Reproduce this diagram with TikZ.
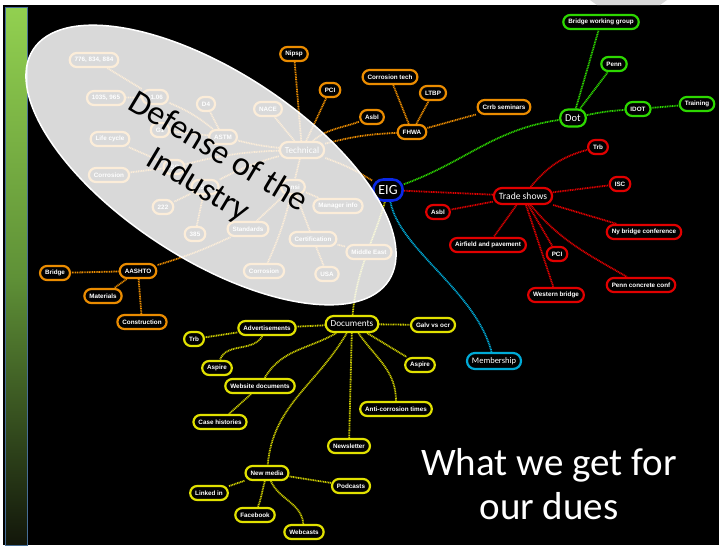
\documentclass[tikz,border=0pt]{standalone}
\usepackage{fontspec}
\setmainfont{Carlito}
\newfontfamily\arialfont{Liberation Sans}
\usetikzlibrary{calc}
\pgfdeclarelayer{bgl}
\pgfdeclarelayer{edgel}
\pgfdeclarelayer{topl}
\pgfsetlayers{bgl,edgel,main,topl}
\definecolor{orng}{RGB}{235,140,0}
\definecolor{grn}{RGB}{45,215,0}
\definecolor{rdd}{RGB}{225,0,0}
\definecolor{yelb}{RGB}{225,225,0}
\definecolor{yell}{RGB}{205,205,0}
\definecolor{eigblue}{RGB}{10,40,230}
\definecolor{memb}{RGB}{0,170,215}
\definecolor{bartop}{RGB}{146,208,80}
\definecolor{barmid}{RGB}{95,145,55}
\definecolor{barbot}{RGB}{18,22,10}
\newcommand{\leaffont}{\arialfont\bfseries\fontsize{6.3}{7}\selectfont}
\newcommand{\topicfont}{\fontsize{9.2}{10}\selectfont}
\begin{document}
\begin{tikzpicture}[x=1pt,y=1pt,
  leaf/.style={draw, fill=black, text=white, font=\leaffont, line width=2.2pt,
    rounded corners=7pt, inner xsep=5pt, inner ysep=1pt, minimum height=14pt},
  topic/.style={leaf, font=\topicfont, rounded corners=8pt, minimum height=16pt, inner xsep=5pt},
  orn/.style={draw=orng}, gr/.style={draw=grn}, rd/.style={draw=rdd}, yl/.style={draw=yelb},
  lnk/.style={line width=1.8pt, dash pattern=on 1pt off 0.7pt},
  lo/.style={lnk, draw=orng}, lg/.style={lnk, draw=grn}, lr/.style={lnk, draw=rdd},
  ly/.style={lnk, draw=yell}, lb/.style={lnk, draw=memb}
]
\useasboundingbox (0,0) rectangle (721,-547);
\begin{pgfonlayer}{bgl}
\fill[white] (0,0) rectangle (721,-547);
\fill[black] (3,-5) rectangle (719,-545);
\fill[black!15] (590,0) -- (667,0) -- (660,-5) -- (597,-5) -- cycle;
\shade[top color=bartop, bottom color=barbot, middle color=barmid] (5,-7) rectangle (27,-545);
\draw[draw={rgb,255:red,70;green,110;blue,150}, line width=0.6pt] (5,-7) rectangle (27,-545);
\end{pgfonlayer}

% ---------- hub ----------
\node[leaf, draw=eigblue, line width=2.6pt, font=\fontsize{14}{15}\selectfont, rounded corners=10pt, minimum height=21pt, inner xsep=5pt] (eig) at (388,-190) {EIG};

% ---------- technical (orange) ----------
\node[topic,orn] (tech) at (302,-150) {Technical};
\node[leaf,orn] (nipsp) at (294,-54) {Nipsp};
\node[leaf,orn] (pci1) at (330,-90) {PCI};
\node[leaf,orn] (asbl1) at (372,-117) {Asbl};
\node[leaf,orn] (ctech) at (390,-77) {Corrosion tech};
\node[leaf,orn] (ltbp) at (433,-93) {LTBP};
\node[leaf,orn] (fhwa) at (412,-132) {FHWA};
\node[leaf,orn] (crrb) at (504,-107) {Crrb seminars};
\node[leaf,orn] (aashto) at (138,-271) {AASHTO};
\node[leaf,orn] (bridge) at (55,-273) {Bridge};
\node[leaf,orn] (mat) at (103,-296) {Materials};
\node[leaf,orn] (constr) at (142,-322) {Construction};
\node[leaf,orn] (n776) at (94,-60) {776, 834, 884};
\node[leaf,orn] (n1035) at (106,-98) {1035, 965};
\node[leaf,orn] (e106) at (155,-97) {e1.06};
\node[leaf,orn] (d4) at (206,-104) {D4};
\node[leaf,orn] (nace) at (268,-109) {NACE};
\node[leaf,orn] (astm) at (223,-137) {ASTM};
\node[leaf,orn] (g1) at (160,-130) {G1};
\node[leaf,orn] (life) at (110,-139) {Life cycle};
\node[leaf,orn] (corr1) at (109,-175) {Corrosion};
\node[leaf,orn] (iso) at (174,-167) {ISO};
\node[leaf,orn] (sspc) at (205,-187) {SSPC};
\node[leaf,orn] (n222) at (163,-207) {222};
\node[leaf,orn] (n385) at (195,-234) {385};
\node[leaf,orn] (stand) at (248,-229) {Standards};
\node[leaf,orn] (ansi) at (293,-187) {Ansi};
\node[leaf,orn] (mgr) at (338,-206) {Manager info};
\node[leaf,orn] (cert) at (313,-239) {Certification};
\node[leaf,orn] (mideast) at (369,-252) {Middle East};
\node[leaf,orn] (usa) at (327,-274) {USA};
\node[leaf,orn] (corr2) at (264,-271) {Corrosion};

% ---------- trade shows (red) ----------
\node[topic,rd, font=\fontsize{9.6}{10}\selectfont] (trade) at (523,-196) {Trade shows};
\node[leaf,rd] (trb1) at (598,-147) {Trb};
\node[leaf,rd] (isc) at (620,-184) {ISC};
\node[leaf,rd] (asbl2) at (438,-212) {Asbl};
\node[leaf,rd] (airf) at (488,-245) {Airfield and pavement};
\node[leaf,rd] (pci2) at (557,-254) {PCI};
\node[leaf,rd] (western) at (556,-295) {Western bridge};
\node[leaf,rd] (ny) at (644,-232) {Ny bridge conference};
\node[leaf,rd] (pennc) at (641,-285) {Penn concrete conf};

% ---------- dot (green) ----------
\node[topic,gr, font=\fontsize{10.5}{11}\selectfont, minimum height=17pt] (dot) at (573,-118) {Dot};
\node[leaf,gr] (bwg) at (601,-22) {Bridge working group};
\node[leaf,gr] (penn) at (614,-64) {Penn};
\node[leaf,gr] (idot) at (638,-109) {IDOT};
\node[leaf,gr] (train) at (697,-104) {Training};

% ---------- membership ----------
\node[topic, draw=memb, font=\fontsize{8.5}{9}\selectfont] (memb) at (494,-361) {Membership};

% ---------- documents (yellow) ----------
\node[topic,yl] (docs) at (352,-324) {Documents};
\node[leaf,yl] (adv) at (267,-328) {Advertisements};
\node[leaf,yl] (trb2) at (194,-339) {Trb};
\node[leaf,yl] (asp1) at (217,-368) {Aspire};
\node[leaf,yl] (web) at (260,-386) {Website documents};
\node[leaf,yl] (case) at (220,-422) {Case histories};
\node[leaf,yl] (galv) at (433,-325) {Galv vs ocr};
\node[leaf,yl] (asp2) at (420,-365) {Aspire};
\node[leaf,yl] (anti) at (396,-409) {Anti-corrosion times};
\node[leaf,yl] (news) at (349,-446) {Newsletter};
\node[leaf,yl] (nmedia) at (267,-473) {New media};
\node[leaf,yl] (linked) at (209,-493) {Linked in};
\node[leaf,yl] (fb) at (255,-515) {Facebook};
\node[leaf,yl] (webc) at (304,-532) {Webcasts};
\node[leaf,yl] (pod) at (351,-486) {Podcasts};

\begin{pgfonlayer}{edgel}
% orange
\draw[lo] (eig) to[bend right=6] (tech);
\draw[lo] (tech) -- (nipsp);
\draw[lo] (tech) -- (pci1);
\draw[lo] (tech) to[out=40,in=200] (asbl1);
\draw[lo] (tech) to[bend left=6] (fhwa);
\draw[lo] (fhwa) -- (ctech);
\draw[lo] (fhwa) -- (ltbp);
\draw[lo] (fhwa) to[out=15,in=195] (crrb);
\draw[lo] (tech) -- (nace);
\draw[lo] (tech) to[bend left=4] (astm);
\draw[lo] (astm) -- (d4);
\draw[lo] (astm) to[bend right=8] (e106);
\draw[lo] (e106) -- (n776);
\draw[lo] (e106) -- (n1035);
\draw[lo] (astm) -- (g1);
\draw[lo] (tech) to[bend right=6] (iso);
\draw[lo] (iso) -- (life);
\draw[lo] (iso) -- (corr1);
\draw[lo] (tech) to[bend right=6] (sspc);
\draw[lo] (sspc) -- (n222);
\draw[lo] (sspc) -- (n385);
\draw[lo] (tech) -- (ansi);
\draw[lo] (ansi) -- (mgr);
\draw[lo] (ansi) -- (cert);
\draw[lo] (ansi) to[bend left=5] (corr2);
\draw[lo] (ansi) -- (stand);
\draw[lo] (cert) -- (usa);
\draw[lo] (cert) -- (mideast);
\draw[lo] (stand) to[bend left=4] (aashto);
\draw[lo] (aashto) -- (bridge);
\draw[lo] (aashto) -- (mat);
\draw[lo] (aashto) -- (constr);
% green
\draw[lg] (eig) to[out=20,in=188] (dot);
\draw[lg] (dot) -- (bwg);
\draw[lg] (dot) -- (penn);
\draw[lg] (dot) to[bend left=4] (idot);
\draw[lg] (idot) -- (train);
% red
\draw[lr] (eig) -- (trade);
\draw[lr] (trade) to[out=50,in=195] (trb1);
\draw[lr] (trade) -- (isc);
\draw[lr] (trade) -- (asbl2);
\draw[lr] (trade) -- (airf);
\draw[lr] (trade) -- (pci2);
\draw[lr] (trade) -- (western);
\draw[lr] (trade) -- (ny);
\draw[lr] (trade) to[out=-50,in=150] (pennc);
% blue
\draw[lb] (eig) .. controls (400,-250) and (475,-290) .. (memb);
% yellow
\draw[ly] (eig) .. controls (376,-235) and (356,-270) .. (docs);
\draw[ly] (docs) -- (adv);
\draw[ly] (adv) -- (trb2);
\draw[ly] (adv) to[out=-120,in=70] (asp1);
\draw[ly] (docs) to[out=-150,in=60] (web);
\draw[ly] (web) -- (case);
\draw[ly] (docs) -- (galv);
\draw[ly] (docs) -- (asp2);
\draw[ly] (docs) to[out=-55,in=90] (anti);
\draw[ly] (docs) -- (news);
\draw[ly] (docs) to[out=-120,in=85] (nmedia);
\draw[ly] (nmedia) -- (linked);
\draw[ly] (nmedia) to[out=-105,in=70] (fb);
\draw[ly] (nmedia) to[out=-65,in=95] (webc);
\draw[ly] (nmedia) -- (pod);
\end{pgfonlayer}

\begin{pgfonlayer}{topl}
\path[fill=white, fill opacity=0.85, draw=white, line width=1.5pt, rotate around={-33:(211,-165)}]
  (211,-165) ellipse [x radius=212, y radius=94];
\node[text=black, font=\fontsize{34}{39}\selectfont, align=center, rotate=-31] (def) at (208,-169) {Defense of the\\Industry};
\node[text=white, font=\fontsize{39}{44}\selectfont, align=center] (dues) at (549,-484) {What we get for\\our dues};
\end{pgfonlayer}
\end{tikzpicture}
\end{document}
